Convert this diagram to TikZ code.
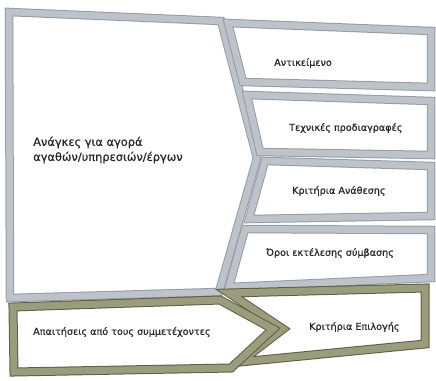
\documentclass[tikz,border=0pt]{standalone}
\usepackage{fontspec}
\setmainfont[FakeBold=0.6]{DejaVu Sans}
\definecolor{gdark}{HTML}{959CA4}
\definecolor{glight}{HTML}{BEC3CA}
\definecolor{odark}{HTML}{5C5E46}
\definecolor{olight}{HTML}{9A9C7C}
\definecolor{txt}{HTML}{262626}
\begin{document}
\begin{tikzpicture}[x=1pt,y=-1pt,
  gframe/.style={draw=gdark, double=glight, double distance=6.5pt, line width=1pt, fill=white, line join=miter},
  oframe/.style={draw=odark, double=olight, double distance=7pt, line width=1pt, fill=white, line join=miter},
  smalltxt/.style={anchor=west, inner sep=0pt, text=txt, font=\fontsize{9.6}{11}\selectfont},
  bigtxt/.style={anchor=west, inner sep=0pt, text=txt, align=left, font=\fontsize{11.4}{15}\selectfont}]
\useasboundingbox (0,0) rectangle (436,380);
% big chevron
\draw[gframe] (9,12) -- (221,21) -- (257,158) -- (219,292) -- (10,298) -- cycle;
% right boxes
\draw[gframe] (228,23) -- (431,31) -- (431,87) -- (243,82) -- cycle;
\draw[gframe] (247,95) -- (431,101) -- (431,155) -- (260,152) -- cycle;
\draw[gframe] (265,161) -- (431,166) -- (431,216) -- (249,219) -- cycle;
\draw[gframe] (245,229) -- (431,230) -- (431,278) -- (229,287) -- cycle;
% olive boxes
\draw[oframe] (229,293) -- (425,288) -- (425,344) -- (240,362) -- (283,329) -- cycle;
\draw[oframe] (13,307) -- (220,300) -- (273,329) -- (231,368) -- (14,372) -- cycle;
% texts
\node[bigtxt] (needs) at (33,150) {Ανάγκες για αγορά\\αγαθών/υπηρεσιών/έργων};
\node[smalltxt] (obj) at (274,63) {Αντικείμενο};
\node[smalltxt] (tech) at (289,128) {Τεχνικές προδιαγραφές};
\node[smalltxt] (award) at (292,191) {Κριτήρια Ανάθεσης};
\node[smalltxt] (terms) at (266,253) {Όροι εκτέλεσης σύμβασης};
\node[smalltxt] (sel) at (309,327) {Κριτήρια Επιλογής};
\node[smalltxt] (req) at (33,332) {Απαιτήσεις από τους συμμετέχοντες};
\end{tikzpicture}
\end{document}
